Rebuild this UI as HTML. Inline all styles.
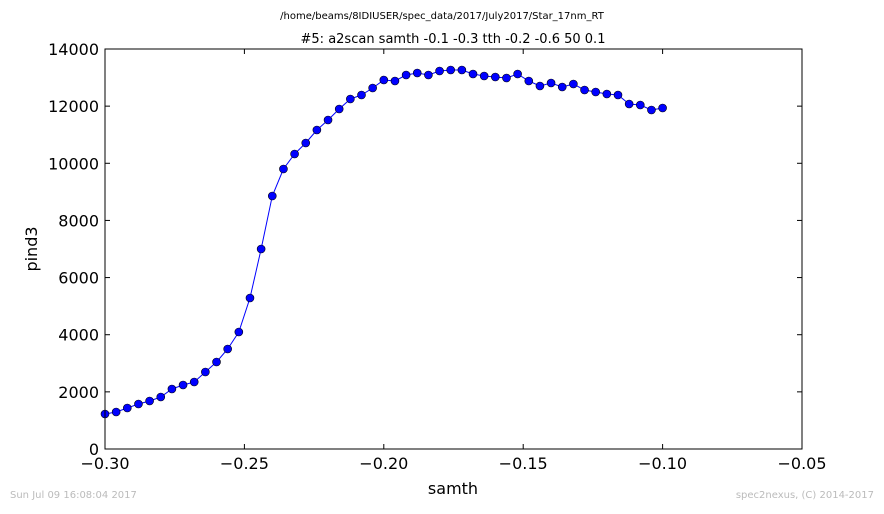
<!DOCTYPE html>
<html><head><meta charset="utf-8"><style>
body{margin:0;background:#fff;font-family:"Liberation Sans","DejaVu Sans",sans-serif}
svg text{font-family:"DejaVu Sans","Liberation Sans",sans-serif}
</style></head><body>
<svg id="chart" width="884" height="509">
<rect width="884" height="509" fill="#fff"/>
<text x="442" y="19" font-size="10" text-anchor="middle">/home/beams/8IDIUSER/spec_data/2017/July2017/Star_17nm_RT</text>
<text x="453" y="43" font-size="13" text-anchor="middle">#5: a2scan  samth -0.1 -0.3  tth -0.2 -0.6  50 0.1</text>
<g id="axes"></g>
<text x="453" y="494" font-size="16" text-anchor="middle">samth</text>
<text x="37" y="249" font-size="16" text-anchor="middle" transform="rotate(-90 37 249)">pind3</text>
<text x="10" y="498" font-size="10" fill="#bbb">Sun Jul 09 16:08:04 2017</text>
<text x="874" y="498" font-size="10" fill="#bbb" text-anchor="end">spec2nexus, (C) 2014-2017</text>
</svg>
<script>
const xStart=-0.3, xStep=0.004;
const yValues=[1225,1295,1435,1575,1680,1820,2100,2240,2345,2695,3045,3500,4095,5285,7000,8855,9800,10325,10710,11165,11515,11900,12250,12390,12635,12915,12880,13090,13160,13090,13230,13265,13265,13125,13055,13020,12985,13125,12880,12705,12810,12670,12775,12565,12495,12425,12390,12075,12040,11865,11935];
const xTicks=[-0.30,-0.25,-0.20,-0.15,-0.10,-0.05];
const xTickLabels=["\u22120.30","\u22120.25","\u22120.20","\u22120.15","\u22120.10","\u22120.05"];
const yTicks=[0,2000,4000,6000,8000,10000,12000,14000];
const L=105,R=802,T=49,B=449;
const X=v=>L+(v+0.3)/0.25*(R-L);
const Y=v=>B-v/14000*(B-T);
const NS="http://www.w3.org/2000/svg";
const g=document.getElementById('axes');
function mk(t,a,p){const e=document.createElementNS(NS,t);for(const k in a)e.setAttribute(k,a[k]);(p||g).appendChild(e);return e;}
xTicks.forEach((v,i)=>{
 const x=X(v);
 const t1=mk('line',{x1:x,x2:x,y1:B,y2:B-5,stroke:'#000'});
 
 
 mk('line',{x1:x,x2:x,y1:T,y2:T+5,stroke:'#000'});
 const tx=mk('text',{x:x,y:B+20,'font-size':16,'text-anchor':'middle'});tx.textContent=xTickLabels[i];
 
 
});
yTicks.forEach(v=>{
 const y=Y(v);
 mk('line',{x1:L,x2:L+5,y1:y,y2:y,stroke:'#000'});
 mk('line',{x1:R,x2:R-5,y1:y,y2:y,stroke:'#000'});
 const tx=mk('text',{x:L-6,y:y+6,'font-size':16,'text-anchor':'end'});tx.textContent=v;
 
 
});
const pts=yValues.map((v,i)=>[X(xStart+i*xStep),Y(v)]);
const line=mk('polyline',{points:pts.map(p=>p.join(',')).join(' '),fill:'none',stroke:'#0000ff','stroke-width':1});


pts.forEach(p=>{
 const c=mk('circle',{cx:p[0],cy:p[1],r:4,fill:'#0000ff',stroke:'#000','stroke-width':0.6});
 
 
});
const fr=mk('rect',{x:L,y:T,width:R-L,height:B-T,fill:'none',stroke:'#000','stroke-width':1});


</script>
</body></html>
